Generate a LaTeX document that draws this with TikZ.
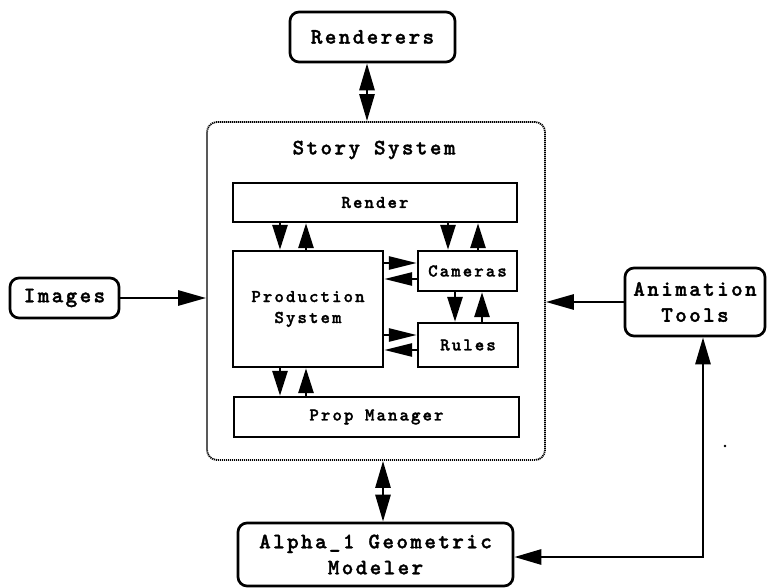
\documentclass[tikz,border=0pt]{standalone}
\usepackage{fontspec}
\usetikzlibrary{arrows.meta}
\newfontfamily\cour{lmmonolt10-bold.otf}[LetterSpace=11,FakeBold=1.5]
\newfontfamily\courin{lmmonolt10-bold.otf}[LetterSpace=11.5,FakeBold=1.5]
\begin{document}
\begin{tikzpicture}[x=1pt,y=-1pt,
  outerbox/.style={draw,line width=2.7pt,rounded corners=9pt,align=center,inner sep=0pt,
    font=\cour\fontsize{22}{26}\selectfont},
  innerbox/.style={draw,line width=2.4pt,align=center,inner sep=0pt,
    font=\courin\fontsize{18}{21}\selectfont},
  storybox/.style={draw,line width=1.8pt,dash pattern=on 1.2pt off 0.8pt,rounded corners=10pt,inner sep=0pt},
  oarr/.style={line width=2.8pt,-{Triangle[length=28pt,width=15pt]}},
  odbl/.style={line width=2.8pt,{Triangle[length=27pt,width=15pt]}-{Triangle[length=27pt,width=15pt]}},
  varr/.style={line width=2.8pt,-{Triangle[length=25pt,width=15pt]}},
  harr/.style={line width=2.8pt,-{Triangle[length=28pt,width=13pt]}},
  lbl/.style={font=\cour\fontsize{22}{26}\selectfont,inner sep=0pt}]
\useasboundingbox (0,0) rectangle (769,588);

% outer boxes
\node[outerbox,minimum width=165pt,minimum height=50pt] (rend) at (372.5,37) {Renderers};
\node[outerbox,minimum width=109pt,minimum height=40pt] (img) at (64.5,298) {Images};
\node[outerbox,minimum width=140pt,minimum height=68pt] (anim) at (695,302) {Animation\\Tools};
\node[outerbox,minimum width=275pt,minimum height=63pt] (alpha) at (375.5,554.5) {Alpha\_1 Geometric\\Modeler};
\node[storybox,minimum width=338pt,minimum height=338pt] (story) at (376,291) {};
\node[lbl] (storylbl) at (374,150) {Story System};

% inner boxes
\node[innerbox,minimum width=284pt,minimum height=39pt] (render) at (375,202.5) {Render};
\node[innerbox,minimum width=150pt,minimum height=116pt] (prod) at (308,309) {Production\\System};
\node[innerbox,minimum width=99pt,minimum height=40pt] (cam) at (467.5,271) {Cameras};
\node[innerbox,minimum width=100pt,minimum height=44pt] (rules) at (468,345) {Rules};
\node[innerbox,minimum width=285pt,minimum height=40pt] (prop) at (376.5,417) {Prop Manager};

% outer connectors
\draw[odbl] (367,0 |- rend.south) -- (367,0 |- story.north);
\draw[odbl] (383,0 |- story.south) -- (383,0 |- alpha.north);
\draw[oarr] (img.east) -- (story.west |- img.east);
\draw[oarr] (anim.west) -- (story.east |- anim.west);
\coordinate (corner) at (703,557);
\draw[odbl,line join=miter] (anim.south -| corner) -- (corner) -- (alpha.east |- corner);

% inner connectors
\draw[varr] (280,0 |- render.south) -- (280,0 |- prod.north);
\draw[varr] (306,0 |- prod.north) -- (306,0 |- render.south);
\draw[varr] (448,0 |- render.south) -- (448,0 |- cam.north);
\draw[varr] (478,0 |- cam.north) -- (478,0 |- render.south);
\draw[varr] (455,0 |- cam.south) -- (455,0 |- rules.north);
\draw[varr] (482,0 |- rules.north) -- (482,0 |- cam.south);
\draw[varr] (280,0 |- prod.south) -- (280,0 |- prop.north);
\draw[varr] (306,0 |- prop.north) -- (306,0 |- prod.south);
\draw[harr] (prod.east |- 0,263) -- (cam.west |- 0,263);
\draw[harr] (cam.west |- 0,279) -- (prod.east |- 0,279);
\draw[harr] (prod.east |- 0,335) -- (rules.west |- 0,335);
\draw[harr] (rules.west |- 0,350) -- (prod.east |- 0,350);

% speck
\fill (725,446) circle (1.3pt);
\end{tikzpicture}
\end{document}
